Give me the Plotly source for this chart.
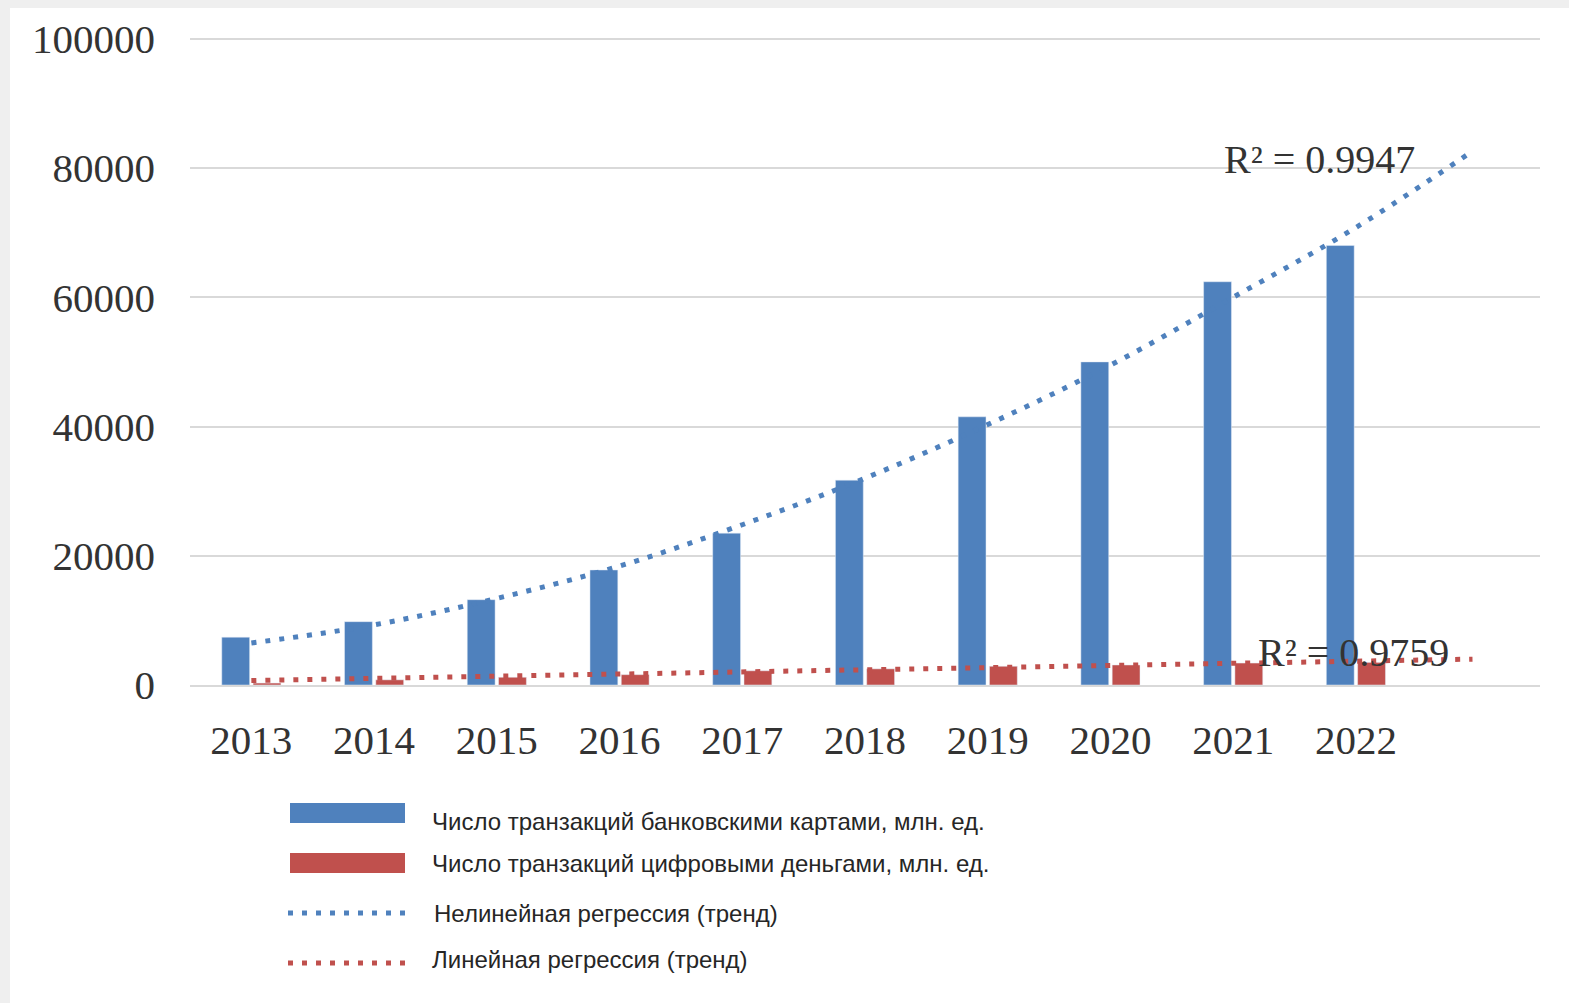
import plotly.graph_objects as go

years = ["2013", "2014", "2015", "2016", "2017", "2018", "2019", "2020", "2021", "2022"]
cards = [7400, 9800, 13200, 17800, 23500, 31700, 41500, 50000, 62400, 68000]
digital = [300, 800, 1200, 1600, 2200, 2500, 2900, 3100, 3400, 3500]
# trend lines (2013..2023, one period forecast)
trend_nonlin = [6500, 9300, 13400, 18400, 24800, 32000, 40300, 49500, 60000, 70800, 82600]
trend_x_end = 9.95
trend_lin_x = [0, 9.95]
trend_lin = [700, 4000]
r2_cards = "R² = 0.9947"
r2_digital = "R² = 0.9759"
y_ticks = [0, 20000, 40000, 60000, 80000, 100000]
legend_names = [
    "Число транзакций банковскими картами, млн. ед.",
    "Число транзакций цифровыми деньгами, млн. ед.",
    "Нелинейная регрессия (тренд)",
    "Линейная регрессия (тренд)",
]

BLUE = "#4f81bd"
RED = "#c0504d"
W, H = 1569, 1003
Y_TOP = 101200  # small headroom so the 100000 gridline is drawn
L, R, B = 190, 29, 318
T = 39 - round((Y_TOP - 100000) * 646 / 100000)
PW, PH = W - L - R, H - T - B


def px(x):
    return (x - L) / PW


def py(y):
    return (H - B - y) / PH


xi = list(range(len(years)))
xt = list(range(len(trend_nonlin) - 1)) + [trend_x_end]

fig = go.Figure()
fig.add_trace(go.Bar(x=xi, y=cards, marker_color=BLUE, name=legend_names[0], showlegend=False))
fig.add_trace(go.Bar(x=xi, y=digital, marker_color=RED, name=legend_names[1], showlegend=False))
fig.add_trace(go.Scatter(x=xt, y=trend_nonlin, mode="lines", line=dict(color=BLUE, width=5, dash="5px,9px", shape="spline"),
                         name=legend_names[2], showlegend=False))
fig.add_trace(go.Scatter(x=trend_lin_x, y=trend_lin, mode="lines", line=dict(color=RED, width=5, dash="5px,9px"),
                         name=legend_names[3], showlegend=False))

shapes = [
    dict(type="rect", xref="paper", yref="paper", x0=px(10), x1=px(W + 5), y0=py(H + 5), y1=py(8),
         fillcolor="white", line=dict(width=0), layer="below"),
    dict(type="rect", xref="paper", yref="paper", x0=px(290), x1=px(405), y0=py(823), y1=py(803),
         fillcolor=BLUE, line=dict(width=0)),
    dict(type="rect", xref="paper", yref="paper", x0=px(290), x1=px(405), y0=py(873), y1=py(853),
         fillcolor=RED, line=dict(width=0)),
    dict(type="line", xref="paper", yref="paper", x0=px(288), x1=px(410), y0=py(913), y1=py(913),
         line=dict(color=BLUE, width=5, dash="5px,9px")),
    dict(type="line", xref="paper", yref="paper", x0=px(288), x1=px(410), y0=py(963), y1=py(963),
         line=dict(color=RED, width=5, dash="5px,9px")),
]

leg_font = dict(family="Liberation Sans, Arial", size=24, color="#262626")
leg_y = [821, 863, 913, 959]
leg_x = [430, 430, 432, 430]
annotations = []
for name, yy, xx in zip(legend_names, leg_y, leg_x):
    annotations.append(dict(text=name, xref="paper", yref="paper", x=px(xx), y=py(yy), xanchor="left",
                            yanchor="middle", showarrow=False, font=leg_font))

r2_font = dict(family="Liberation Serif, Times New Roman, serif", size=40, color="#333333")
annotations.append(dict(text=r2_cards, x=8.7, y=81300, xref="x", yref="y", showarrow=False, font=r2_font))
annotations.append(dict(text=r2_digital, x=8.98, y=5100, xref="x", yref="y", showarrow=False, font=r2_font))

tick_font = dict(family="Liberation Serif, Times New Roman, serif", size=41, color="#333333")

fig.update_layout(
    width=W, height=H,
    margin=dict(l=L, r=R, t=T, b=B),
    paper_bgcolor="#efefef",
    plot_bgcolor="white",
    barmode="group",
    bargap=0.49,
    bargroupgap=0.11,
    shapes=shapes,
    annotations=annotations,
    xaxis=dict(range=[-0.5, 10.5], tickmode="array", tickvals=xi, ticktext=years, showgrid=False,
               zeroline=False, showline=True, linecolor="#d9d9d9", linewidth=2, tickfont=tick_font,
               ticks="", ticklabelstandoff=18),
    yaxis=dict(range=[0, Y_TOP], tickmode="array", tickvals=y_ticks,
               ticktext=[str(v) for v in y_ticks], showgrid=True,
               gridcolor="#d9d9d9", gridwidth=2, zeroline=False, tickfont=tick_font, ticks="",
               ticklabelstandoff=34),
)

fig.write_html(
    "out.html",
    config={"displayModeBar": False},
    post_script="document.body.style.margin='0';document.body.style.padding='0';document.body.style.background='#efefef';",
)
